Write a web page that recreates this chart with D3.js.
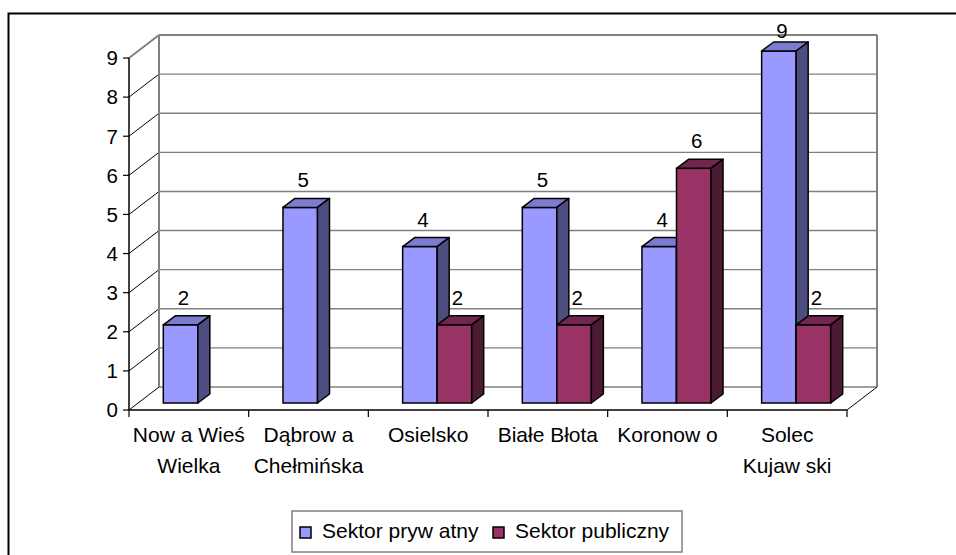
<!DOCTYPE html>
<html lang="pl">
<head>
<meta charset="utf-8">
<title>Sektor prywatny i publiczny</title>
<script src="https://d3js.org/d3.v7.min.js"></script>
<style>
  body { margin: 0; background: #fff; }
  text { font-family: Arial, "Liberation Sans", sans-serif; fill: #000; }
</style>
</head>
<body>
<svg></svg>
<script>
// dane
const categories = [['Now a Wieś', 'Wielka'], ['Dąbrow a', 'Chełmińska'], ['Osielsko'],
                    ['Białe Błota'], ['Koronow o'], ['Solec', 'Kujaw ski']]
const seriesNames = ['Sektor pryw atny', 'Sektor publiczny']
const prywatny = [2, 5, 4, 5, 4, 9]
const publiczny = [null, null, 2, 2, 6, 2]
const yTicks = [0, 1, 2, 3, 4, 5, 6, 7, 8, 9]

const colors = [
  { front: '#9999ff', top: '#7b7bd0', side: '#4d4d80' },
  { front: '#993366', top: '#73264d', side: '#4d1a33' }
]

const W = 956, H = 555
const svg = d3.select('svg').attr('width', W).attr('height', H)

// ramka
svg.append('rect')
  .attr('x', 8.5).attr('y', 13.5).attr('width', 960).attr('height', 560)
  .attr('fill', 'none').attr('stroke', '#000').attr('stroke-width', 2)

// glebokosc 3D
const DX = 30, DY = -23
const left = 129, right = 847

const y = d3.scaleLinear().domain([0, 9]).range([410, 58])
const x0 = d3.scaleBand().domain(d3.range(categories.length)).range([left, right])
  .paddingInner(0.423).paddingOuter(0.2115)
const x1 = d3.scaleBand().domain([0, 1]).range([0, x0.bandwidth()])

const g = svg.append('g')

// sciana tylna - linie siatki
g.selectAll('.grid').data(yTicks).join('line')
  .attr('x1', left + DX).attr('x2', right + DX)
  .attr('y1', d => y(d) + DY).attr('y2', d => y(d) + DY)
  .attr('stroke', '#808080').attr('stroke-width', d => d === 9 ? 2 : 1.4)

// sciana boczna - ukosne linie
g.selectAll('.diag').data(yTicks).join('line')
  .attr('x1', left).attr('x2', left + DX)
  .attr('y1', d => y(d)).attr('y2', d => y(d) + DY)
  .attr('stroke', d => d === 9 ? '#808080' : '#000')
  .attr('stroke-width', d => d === 9 ? 2 : 1)

// pionowe krawedzie sciany tylnej
g.append('line').attr('x1', left + DX).attr('x2', left + DX)
  .attr('y1', y(9) + DY).attr('y2', y(0) + DY).attr('stroke', '#808080').attr('stroke-width', 2)
g.append('line').attr('x1', right + DX).attr('x2', right + DX)
  .attr('y1', y(9) + DY).attr('y2', y(0) + DY).attr('stroke', '#808080').attr('stroke-width', 2)

// podloga - prawa krawedz
g.append('line').attr('x1', right).attr('x2', right + DX)
  .attr('y1', y(0)).attr('y2', y(0) + DY).attr('stroke', '#000').attr('stroke-width', 1)

// os Y
g.append('line').attr('x1', left).attr('x2', left)
  .attr('y1', y(9)).attr('y2', y(0)).attr('stroke', '#000').attr('stroke-width', 1.5)
g.selectAll('.ytick').data(yTicks).join('line')
  .attr('x1', left - 6).attr('x2', left)
  .attr('y1', d => y(d)).attr('y2', d => y(d))
  .attr('stroke', '#000').attr('stroke-width', 1.2)
g.selectAll('.ylab').data(yTicks).join('text')
  .attr('x', left - 11).attr('y', d => y(d))
  .attr('dy', '0.36em').attr('text-anchor', 'end')
  .style('font-size', '20.5px').text(d => d)

// os X
g.append('line').attr('x1', left).attr('x2', right)
  .attr('y1', y(0)).attr('y2', y(0)).attr('stroke', '#000').attr('stroke-width', 1.5)
const xb = d3.range(categories.length + 1).map(i => left + i * x0.step())
g.selectAll('.xtick').data(xb).join('line')
  .attr('x1', d => d).attr('x2', d => d)
  .attr('y1', y(0)).attr('y2', y(0) + 7)
  .attr('stroke', '#000').attr('stroke-width', 1.2)

const xl = g.selectAll('.xlab').data(categories).join('text')
  .attr('text-anchor', 'middle')
  .attr('x', (d, i) => left + (i + 0.5) * x0.step())
  .attr('y', 442)
  .style('font-size', '21px')
xl.selectAll('tspan').data(d => d).join('tspan')
  .attr('x', function () { return this.parentNode.getAttribute('x') })
  .attr('dy', (d, i) => i === 0 ? 0 : 31)
  .text(d => d)

// slupki
const FX = 9, FY = -7, BX = 12, BY = -9
const bars = []
categories.forEach((c, i) => {
  [prywatny, publiczny].forEach((s, k) => {
    if (s[i] != null) bars.push({ i, k, v: s[i] })
  })
})

const bar = g.selectAll('.bar').data(bars).join('g')
bar.each(function (d) {
  const sel = d3.select(this)
  const w = x1.bandwidth()
  const bx = x0(d.i) + x1(d.k) + FX
  const yb = y(0) + FY
  const yt = y(d.v) + FY
  const c = colors[d.k]
  sel.append('rect')
    .attr('x', bx).attr('y', yt).attr('width', w).attr('height', yb - yt)
    .attr('fill', c.front).attr('stroke', '#000').attr('stroke-width', 1.5)
  sel.append('polygon')
    .attr('points', [[bx, yt], [bx + BX, yt + BY], [bx + w + BX, yt + BY], [bx + w, yt]].join(' '))
    .attr('fill', c.top).attr('stroke', '#000').attr('stroke-width', 1.5).attr('stroke-linejoin', 'round')
  sel.append('polygon')
    .attr('points', [[bx + w, yt], [bx + w + BX, yt + BY], [bx + w + BX, yb + BY], [bx + w, yb]].join(' '))
    .attr('fill', c.side).attr('stroke', '#000').attr('stroke-width', 1.5).attr('stroke-linejoin', 'round')
  sel.append('text')
    .attr('x', bx + w / 2 + 3)
    .attr('y', Math.max(yt - 20, y(9) + DY + 3))
    .attr('text-anchor', 'middle')
    .style('font-size', '20.5px')
    .text(d.v)
})

// legenda
const leg = svg.append('g')
leg.append('rect')
  .attr('x', 292).attr('y', 511).attr('width', 390).attr('height', 41)
  .attr('fill', '#fff').attr('stroke', '#808080').attr('stroke-width', 1.5)
const legX = [300, 493]
seriesNames.forEach((n, k) => {
  leg.append('rect')
    .attr('x', legX[k]).attr('y', 527).attr('width', 11).attr('height', 11)
    .attr('fill', colors[k].front).attr('stroke', '#000').attr('stroke-width', 1.5)
  leg.append('text')
    .attr('x', legX[k] + 22).attr('y', 538)
    .style('font-size', '21px')
    .text(n)
})
</script>
</body>
</html>
